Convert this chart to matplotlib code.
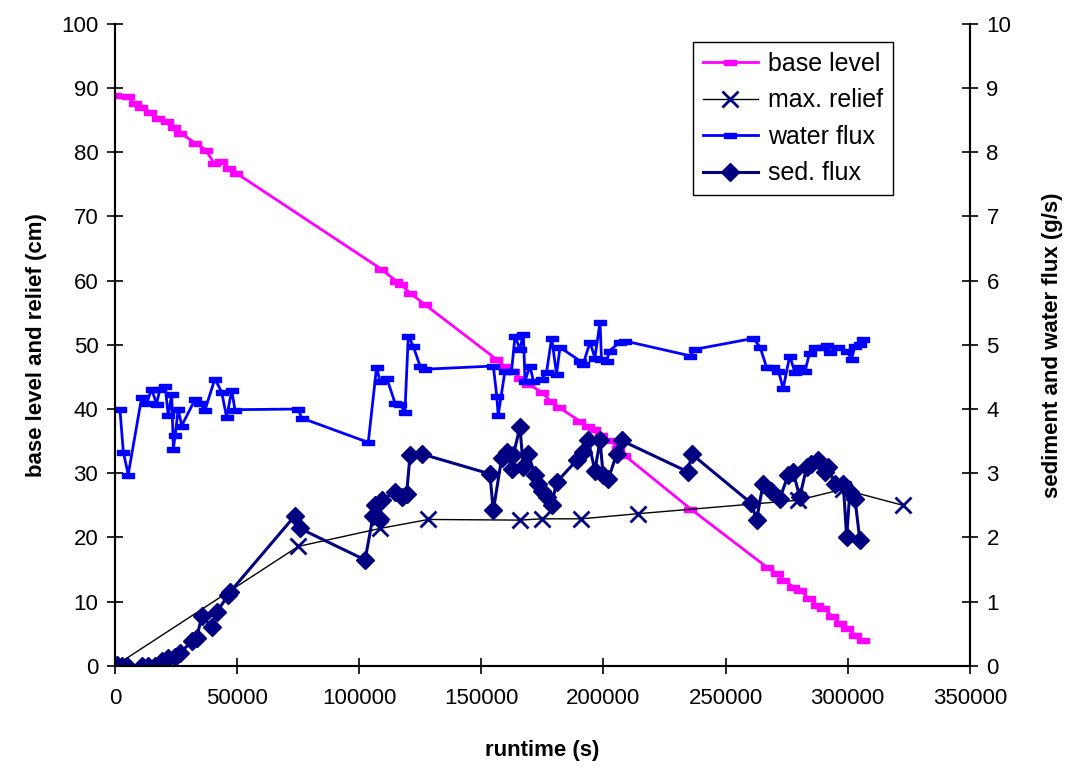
import numpy as np
import matplotlib.pyplot as plt
from matplotlib.ticker import MultipleLocator

plt.rcParams['font.family'] = ['Liberation Sans', 'DejaVu Sans']

# base level (cm)
base_t = [0, 5300, 8000, 10800, 14200, 17600, 21100, 24000, 26800, 32900,
          37100, 40500, 43200, 46700, 49400, 109000, 115200, 117200, 120700,
          126800, 156000, 159500, 162900, 165700, 169200, 174800, 178200,
          181600, 190000, 193500, 196200, 199000, 202400, 205900, 208600,
          235500, 266800, 271000, 273700, 277800, 280600, 284000, 287400,
          290100, 293600, 297000, 299800, 303200, 306300]
base_cm = [88.9, 88.7, 87.6, 87.1, 86.3, 85.3, 84.8, 84.0, 83.0, 81.4,
           80.4, 78.3, 78.6, 77.5, 76.8, 61.8, 59.9, 59.4, 58.1,
           56.3, 47.8, 46.7, 46.0, 44.9, 43.9, 42.6, 41.3,
           40.3, 38.2, 37.4, 36.9, 35.9, 35.1, 34.0, 32.8,
           24.5, 15.4, 14.4, 13.4, 12.3, 11.8, 10.5, 9.5,
           9.0, 7.7, 6.6, 5.9, 4.8, 4.0]

# max. relief (cm)
relief_t = [0, 75000, 108500, 128300, 165800, 174700, 191000, 214200,
            279700, 298000, 322700]
relief_cm = [0, 18.6, 21.4, 22.8, 22.7, 22.9, 22.9, 23.7, 25.8, 27.5, 25.0]

# water flux (g/s)
water_t = [2000, 3400, 5400, 10900, 13000, 15000, 17000, 18400, 20500, 21800,
           23200, 23900, 24600, 25900, 27300, 32800, 34800, 36800, 40900,
           43700, 45700, 47800, 49100, 75000, 76400, 103700, 107100, 108500,
           111200, 114600, 116700, 118700, 120100, 122100, 124900, 126900,
           154900, 156300, 156900, 159700, 162400, 163800, 165800, 167200,
           167900, 169900, 171300, 174700, 176700, 178800, 180800, 182200,
           190400, 191700, 194500, 196500, 198600, 199200, 201300, 202600,
           206700, 208800, 235400, 237500, 261300, 264100, 266800, 269500,
           271600, 273600, 276300, 278400, 280400, 282500, 284500, 286600,
           290000, 291400, 292700, 296100, 299600, 301600, 303000, 305000,
           306400]
water_gs = [4.0, 3.33, 2.98, 4.18, 4.10, 4.31, 4.08, 4.31, 4.36, 3.90,
            4.23, 3.38, 3.59, 4.0, 3.74, 4.15, 4.10, 3.98, 4.47,
            4.26, 3.87, 4.29, 3.99, 4.0, 3.86, 3.48, 4.65, 4.44,
            4.49, 4.10, 4.08, 3.95, 5.14, 4.98, 4.67, 4.62,
            4.67, 4.21, 3.90, 4.60, 4.60, 5.14, 4.93, 5.17,
            4.44, 4.67, 4.44, 4.47, 4.57, 5.11, 4.54, 4.96,
            4.75, 4.70, 5.04, 4.80, 5.35, 4.78, 4.75, 4.91,
            5.04, 5.06, 4.83, 4.93, 5.10, 4.97, 4.65, 4.66,
            4.60, 4.32, 4.83, 4.57, 4.65, 4.59, 4.88, 4.96,
            4.96, 5.0, 4.89, 4.96, 4.91, 4.78, 4.98, 5.01,
            5.09]

# sed. flux (g/s)
sed_t = [700, 2700, 4800, 10900, 13600, 16400, 19100, 21800, 24600, 26600,
         31400, 33400, 35500, 39600, 41600, 46400, 47100, 73700, 75700,
         102400, 105700, 106400, 108500, 109200, 114600, 117400, 119400,
         120800, 125600, 153500, 154900, 158300, 160400, 162400, 163100,
         165800, 167200, 169200, 172000, 173300, 174700, 176700, 178800,
         180800, 189000, 191700, 193800, 196500, 198600, 199900, 202000,
         205400, 207400, 234700, 236100, 260600, 262700, 265400, 268800,
         272200, 275600, 277700, 280400, 283200, 285200, 287900, 290700,
         292000, 294800, 298200, 299600, 300900, 303000, 305000]
sed_gs = [0.02, 0, 0, 0, 0, 0, 0.07, 0.12, 0.14, 0.20,
          0.38, 0.43, 0.77, 0.61, 0.84, 1.10, 1.15, 2.34, 2.14,
          1.65, 2.34, 2.50, 2.29, 2.58, 2.71, 2.63, 2.68,
          3.28, 3.30, 2.99, 2.42, 3.23, 3.33, 3.07, 3.28,
          3.72, 3.09, 3.30, 2.97, 2.84, 2.73, 2.63, 2.50,
          2.86, 3.20, 3.33, 3.51, 3.04, 3.51, 2.97, 2.91,
          3.30, 3.51, 3.02, 3.30, 2.53, 2.27, 2.84, 2.73,
          2.60, 2.97, 3.02, 2.63, 3.09, 3.15, 3.20, 3.02,
          3.09, 2.84, 2.84, 2.01, 2.71, 2.60, 1.96]

# short horizontal dash marker, like the spreadsheet one
dash = [(-1, -0.45), (1, -0.45), (1, 0.45), (-1, 0.45), (-1, -0.45)]

fig, ax = plt.subplots(figsize=(10.68, 7.68), dpi=100)
fig.subplots_adjust(left=0.1077, right=0.908, top=0.969, bottom=0.133)
ax2 = ax.twinx()

l1, = ax.plot(base_t, base_cm, color='#FF00FF', lw=2, marker=dash, ms=8,
              mec='#FF00FF', label='base level')
l2, = ax.plot(relief_t, relief_cm, color='black', lw=1, marker='x', ms=11,
              mew=2, mec='#000080', label='max. relief')
l3, = ax2.plot(water_t, water_gs, color='#0000FF', lw=2, marker=dash, ms=8,
               mec='#0000FF', label='water flux')
l4, = ax2.plot(sed_t, sed_gs, color='#000080', lw=2.2, marker='D', ms=9,
               label='sed. flux')

ax.set_xlim(0, 350000)
ax.set_ylim(0, 100)
ax2.set_ylim(0, 10)
ax.xaxis.set_major_locator(MultipleLocator(50000))
ax.yaxis.set_major_locator(MultipleLocator(10))
ax2.yaxis.set_major_locator(MultipleLocator(1))

for a in (ax, ax2):
    a.spines['top'].set_visible(False)
    a.tick_params(direction='inout', length=12, width=1.2, labelsize=16,
                  pad=6)
    for s in a.spines.values():
        s.set_linewidth(1.5)
ax.tick_params(axis='x', pad=10)
ax.spines['bottom'].set_color('#555555')

ax.set_xlabel('runtime (s)', fontsize=16, fontweight='bold', labelpad=22)
ax.set_ylabel('base level and relief (cm)', fontsize=16, fontweight='bold',
              labelpad=10)
ax2.set_ylabel('sediment and water flux (g/s)', fontsize=16,
               fontweight='bold', rotation=90, labelpad=22)

leg = ax2.legend(handles=[l1, l2, l3, l4], loc='upper right',
                 bbox_to_anchor=(0.91, 0.972), borderaxespad=0, fontsize=18,
                 fancybox=False, framealpha=1, edgecolor='black',
                 handlelength=2.2, handletextpad=0.4, borderpad=0.4,
                 labelspacing=0.5)
leg.get_frame().set_linewidth(1)

fig.savefig('out.png', dpi=100)
